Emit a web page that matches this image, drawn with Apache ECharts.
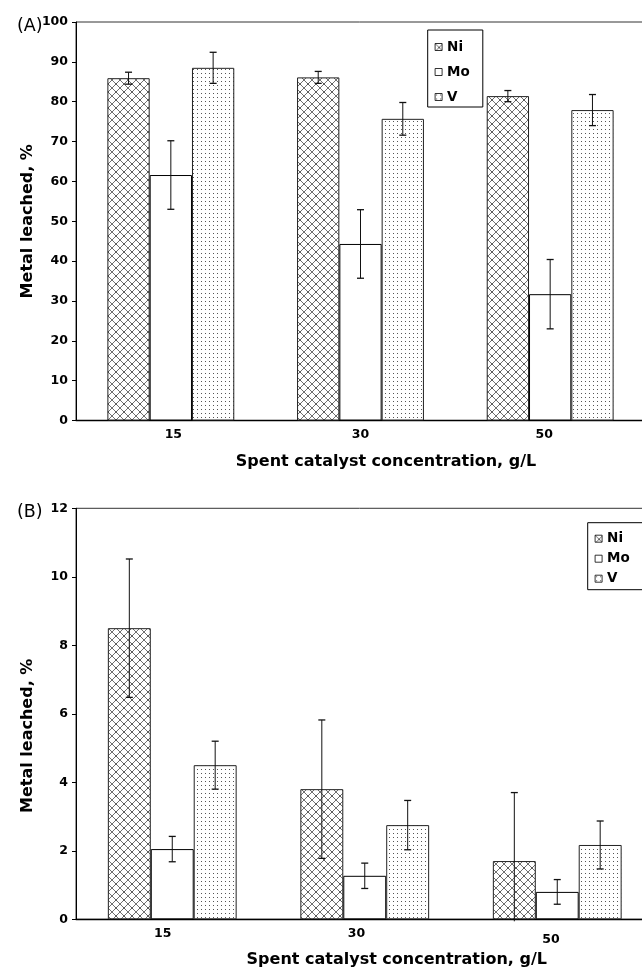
<!DOCTYPE html>
<html>
<head>
<meta charset="utf-8">
<script src="https://cdn.jsdelivr.net/npm/echarts@6/dist/echarts.min.js"></script>
<style>
html,body{margin:0;padding:0;background:#fff;}
#chart{width:642px;height:971px;}
</style>
</head>
<body>
<div id="chart"></div>
<script>
// ---------- data ----------
const categories = ['15', '30', '50'];
const seriesNames = ['Ni', 'Mo', 'V'];
const yTicksA = [0, 100, 10];   // min, max, interval
const yTicksB = [0, 12, 2];

// Panel (A)
const niA = [85.9, 86.1, 81.4];
const niErrA = [1.5, 1.5, 1.4];
const moA = [61.6, 44.3, 31.7];
const moErrA = [8.6, 8.6, 8.7];
const vA = [88.5, 75.7, 77.9];
const vErrA = [3.9, 4.1, 3.9];

// Panel (B)
const niB = [8.5, 3.8, 1.7];
const niErrB = [2.02, 2.02, 2.0];
const moB = [2.05, 1.27, 0.8];
const moErrB = [0.37, 0.37, 0.36];
const vB = [4.5, 2.75, 2.17];
const vErrB = [0.7, 0.72, 0.7];

// ---------- patterns ----------
function hatchPattern() {
  const c = document.createElement('canvas');
  c.width = 8; c.height = 8;
  const g = c.getContext('2d');
  g.fillStyle = '#fff'; g.fillRect(0, 0, 8, 8);
  g.strokeStyle = '#707070'; g.lineWidth = 1;
  g.beginPath();
  g.moveTo(0, 0); g.lineTo(8, 8);
  g.moveTo(8, 0); g.lineTo(0, 8);
  g.stroke();
  g.fillStyle = '#222';
  g.fillRect(3.5, 3.5, 1, 1);
  return c;
}
function dotPattern() {
  const c = document.createElement('canvas');
  c.width = 4; c.height = 4;
  const g = c.getContext('2d');
  g.fillStyle = '#fff'; g.fillRect(0, 0, 4, 4);
  g.fillStyle = '#555';
  g.fillRect(1, 1, 1, 1);
  return c;
}
const niFill = { image: hatchPattern(), repeat: 'repeat' };
const vFill = { image: dotPattern(), repeat: 'repeat' };

const FONT = 'DejaVu Sans, Liberation Sans, Arial, sans-serif';
const BAR_RATIO = 0.223;

function errSeries(name, vals, errs, offset, xi, yi, yMin) {
  return {
    type: 'custom',
    name: name + ' err',
    xAxisIndex: xi, yAxisIndex: yi,
    z: 5,
    silent: true,
    data: vals.map((v, i) => [i, v, errs[i]]),
    renderItem: function (params, api) {
      const idx = api.value(0), v = api.value(1), e = api.value(2);
      const band = api.size([1, 0])[0];
      const x = api.coord([idx, v])[0] + offset * band * BAR_RATIO;
      const yTop = api.coord([idx, v + e])[1];
      const low = v - e;
      let yBot = api.coord([idx, Math.max(low, yMin)])[1];
      if (low < yMin) yBot += 2;
      const cap = 3.5;
      const children = [
        { type: 'line', shape: { x1: x, y1: yTop, x2: x, y2: yBot }, style: { stroke: '#111', lineWidth: 1 } },
        { type: 'line', shape: { x1: x - cap, y1: yTop, x2: x + cap, y2: yTop }, style: { stroke: '#111', lineWidth: 1.3 } }
      ];
      if (low >= yMin) {
        children.push({ type: 'line', shape: { x1: x - cap, y1: yBot, x2: x + cap, y2: yBot }, style: { stroke: '#111', lineWidth: 1.3 } });
      }
      return { type: 'group', children: children };
    }
  };
}

function barSeries(name, vals, fill, border, xi, yi) {
  return {
    type: 'bar', name: name, xAxisIndex: xi, yAxisIndex: yi,
    data: vals, barWidth: (BAR_RATIO * 100) + '%', barGap: '0%',
    itemStyle: { color: fill, borderColor: border, borderWidth: 1 },
    emphasis: { disabled: true }
  };
}

const labelStyle = { fontFamily: FONT, fontWeight: 'bold', fontSize: 12.5, color: '#000' };
const nameStyle = { fontFamily: FONT, fontWeight: 'bold', fontSize: 16, color: '#000' };

function yAxis(gi, t, namePad) {
  return {
    type: 'value', gridIndex: gi, min: t[0], max: t[1], interval: t[2],
    splitLine: { show: false },
    axisLine: { show: true, lineStyle: { color: '#000', width: 1 } },
    axisTick: { show: true, length: 4, lineStyle: { color: '#000' } },
    axisLabel: Object.assign({ margin: 8, showMinLabel: true, showMaxLabel: true }, labelStyle),
    name: 'Metal leached, %', nameLocation: 'middle', nameGap: 40, nameMoveOverlap: false,
    nameTextStyle: Object.assign({ padding: namePad }, nameStyle)
  };
}

function xAxis(gi, labelShifts, namePadLeft, nameGap) {
  return {
    type: 'category', gridIndex: gi,
    data: categories.map((c, i) => ({
      value: c,
      textStyle: { padding: labelShifts[i] }
    })),
    axisLine: { show: true, onZero: false, lineStyle: { color: '#000', width: 1.3 } },
    axisTick: { show: false },
    axisLabel: Object.assign({ margin: 8 }, labelStyle),
    name: 'Spent catalyst concentration, g/L', nameLocation: 'middle', nameGap: nameGap, nameMoveOverlap: false,
    nameTextStyle: Object.assign({ padding: [0, 0, 0, namePadLeft] }, nameStyle)
  };
}

function legend(left, top, gap, pad) {
  return {
    data: seriesNames, orient: 'vertical', left: left, top: top,
    icon: 'rect', itemWidth: 7, itemHeight: 7, itemGap: gap,
    padding: pad, borderColor: '#000', borderWidth: 1, backgroundColor: '#fff',
    selectedMode: false,
    itemStyle: { borderWidth: 0.8, borderColor: '#000' },
    textStyle: { fontFamily: FONT, fontWeight: 'bold', fontSize: 13.5, color: '#000', lineHeight: 14 }
  };
}

const option = {
  backgroundColor: '#fff',
  animation: false,
  title: [
    { text: '(A)', left: 12, top: 12, textStyle: { fontFamily: FONT, fontWeight: 'normal', fontSize: 17.5, color: '#000' } },
    { text: '(B)', left: 12, top: 498, textStyle: { fontFamily: FONT, fontWeight: 'normal', fontSize: 17.5, color: '#000' } }
  ],
  grid: [
    { left: 76, top: 22, height: 398.5, width: 569, outerBoundsMode: 'none', containLabel: false, show: true, borderColor: '#333', borderWidth: 1, backgroundColor: 'transparent' },
    { left: 76, top: 508.3, height: 411, width: 577.5, outerBoundsMode: 'none', containLabel: false, show: true, borderColor: '#333', borderWidth: 1, backgroundColor: 'transparent' }
  ],
  legend: [
    legend(427.7, 30, 11, [10, 13, 3, 7]),
    legend(587.7, 522.7, 6, [9, 30, 4, 7])
  ],
  xAxis: [
    xAxis(0, [[0, 0, 0, 5], [0, 0, 0, 0], [0, 12, 0, 0]], 51, 33),
    xAxis(1, [[0, 19, 0, 0], [0, 16.5, 0, 0], [6, 12.5, 0, 0]], 64, 33)
  ],
  yAxis: [yAxis(0, yTicksA, [0, 0, 0, 0]), yAxis(1, yTicksB, [0, 44, 0, 0])],
  series: [
    barSeries('Ni', niA, niFill, '#222', 0, 0),
    barSeries('Mo', moA, '#fff', '#000', 0, 0),
    barSeries('V', vA, vFill, '#222', 0, 0),
    barSeries('Ni', niB, niFill, '#222', 1, 1),
    barSeries('Mo', moB, '#fff', '#000', 1, 1),
    barSeries('V', vB, vFill, '#222', 1, 1),
    errSeries('Ni', niA, niErrA, -1, 0, 0, yTicksA[0]),
    errSeries('Mo', moA, moErrA, 0, 0, 0, yTicksA[0]),
    errSeries('V', vA, vErrA, 1, 0, 0, yTicksA[0]),
    errSeries('Ni', niB, niErrB, -1, 1, 1, yTicksB[0]),
    errSeries('Mo', moB, moErrB, 0, 1, 1, yTicksB[0]),
    errSeries('V', vB, vErrB, 1, 1, 1, yTicksB[0])
  ]
};

const chart = echarts.init(document.getElementById('chart'), null, { renderer: 'canvas' });
chart.setOption(option);
</script>
</body>
</html>
